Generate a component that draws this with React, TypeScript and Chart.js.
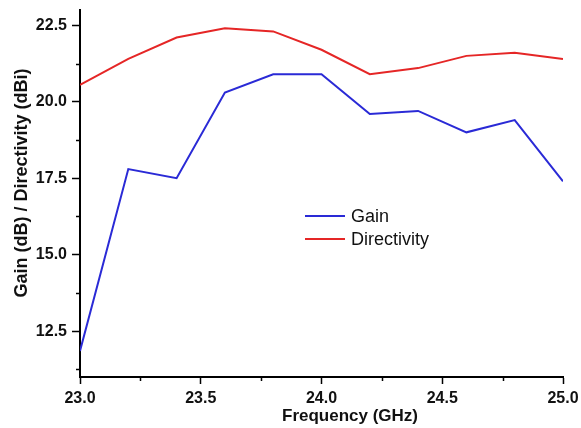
import React, { useEffect, useRef } from "react";
import { Chart, registerables } from "chart.js";

Chart.register(...registerables);

const frequency = [23.0, 23.2, 23.4, 23.6, 23.8, 24.0, 24.2, 24.4, 24.6, 24.8, 25.0];
const gain = [11.85, 17.8, 17.5, 20.3, 20.9, 20.9, 19.6, 19.7, 19.0, 19.4, 17.4];
const directivity = [20.55, 21.4, 22.1, 22.4, 22.3, 21.7, 20.9, 21.1, 21.5, 21.6, 21.4];

const xTicks = [23.0, 23.5, 24.0, 24.5, 25.0];
const xMinorTicks = [23.25, 23.75, 24.25, 24.75];
const yTicks = [12.5, 15.0, 17.5, 20.0, 22.5];
const yMinorTicks = [11.25, 13.75, 16.25, 18.75, 21.25];

const seriesNames = ["Gain", "Directivity"];
const xTitle = "Frequency (GHz)";
const yTitle = "Gain (dB) / Directivity (dBi)";

const FONT = '"Liberation Sans", Arial, sans-serif';
const GAIN_COLOR = "#2a2ad6";
const DIR_COLOR = "#e52626";

const decorPlugin = {
  id: "decor",
  afterDraw(chart: any) {
    const ctx = chart.ctx as CanvasRenderingContext2D;
    const xs = chart.scales.x;
    const ys = chart.scales.y;
    const area = chart.chartArea;
    ctx.save();
    // minor ticks
    ctx.strokeStyle = "#000";
    ctx.lineWidth = 1.5;
    for (const v of xMinorTicks) {
      const px = Math.round(xs.getPixelForValue(v)) + 0.5;
      ctx.beginPath();
      ctx.moveTo(px, area.bottom);
      ctx.lineTo(px, area.bottom + 4);
      ctx.stroke();
    }
    for (const v of yMinorTicks) {
      const py = Math.round(ys.getPixelForValue(v)) + 0.5;
      ctx.beginPath();
      ctx.moveTo(area.left, py);
      ctx.lineTo(area.left - 4, py);
      ctx.stroke();
    }
    // axis titles
    ctx.fillStyle = "#111";
    ctx.font = `bold 17px ${FONT}`;
    ctx.textAlign = "center";
    ctx.textBaseline = "middle";
    ctx.fillText(xTitle, 350, 416);
    ctx.save();
    ctx.translate(22, 183);
    ctx.rotate(-Math.PI / 2);
    ctx.font = `bold 18px ${FONT}`;
    ctx.fillText(yTitle, 0, 0);
    ctx.restore();
    // legend
    const colors = [GAIN_COLOR, DIR_COLOR];
    const ly = [216, 239];
    ctx.font = `18px ${FONT}`;
    ctx.textAlign = "left";
    seriesNames.forEach((name, i) => {
      ctx.strokeStyle = colors[i];
      ctx.lineWidth = 2;
      ctx.beginPath();
      ctx.moveTo(305, ly[i]);
      ctx.lineTo(345, ly[i]);
      ctx.stroke();
      ctx.fillStyle = "#111";
      ctx.fillText(name, 351, ly[i] + 1);
    });
    ctx.restore();
  },
};

export default function App() {
  const ref = useRef<HTMLCanvasElement | null>(null);
  useEffect(() => {
    if (!ref.current) return;
    const chart = new Chart(ref.current, {
      type: "line",
      data: {
        datasets: [
          {
            label: seriesNames[0],
            data: frequency.map((f, i) => ({ x: f, y: gain[i] })),
            borderColor: GAIN_COLOR,
            borderWidth: 2,
            pointRadius: 0,
            tension: 0,
          },
          {
            label: seriesNames[1],
            data: frequency.map((f, i) => ({ x: f, y: directivity[i] })),
            borderColor: DIR_COLOR,
            borderWidth: 2,
            pointRadius: 0,
            tension: 0,
          },
        ],
      },
      options: {
        animation: false,
        responsive: false,
        layout: { padding: { top: 10, right: 18, left: 0, bottom: 0 } },
        plugins: { legend: { display: false }, tooltip: { enabled: false } },
        scales: {
          x: {
            type: "linear",
            min: 23,
            max: 25,
            afterBuildTicks: (s: any) => {
              s.ticks = xTicks.map((v) => ({ value: v }));
            },
            afterFit: (s: any) => {
              s.height = 51;
              s.paddingLeft = 0;
              s.paddingRight = 0;
            },
            ticks: {
              color: "#111",
              font: { family: FONT, size: 16, weight: "bold" },
              padding: 5,
              maxRotation: 0,
              callback: (v: any) => Number(v).toFixed(1),
            },
            grid: {
              drawOnChartArea: false,
              drawTicks: true,
              tickLength: 7,
              tickColor: "#000",
              tickWidth: 1.5,
            },
            border: { display: true, color: "#000", width: 2 },
          },
          y: {
            type: "linear",
            min: 11,
            max: 23,
            afterBuildTicks: (s: any) => {
              s.ticks = yTicks.map((v) => ({ value: v }));
            },
            afterFit: (s: any) => {
              s.width = 80;
              s.paddingTop = 0;
              s.paddingBottom = 0;
            },
            ticks: {
              color: "#111",
              font: { family: FONT, size: 16, weight: "bold" },
              padding: 5,
              callback: (v: any) => Number(v).toFixed(1),
            },
            grid: {
              drawOnChartArea: false,
              drawTicks: true,
              tickLength: 8,
              tickColor: "#000",
              tickWidth: 1.5,
            },
            border: { display: true, color: "#000", width: 2 },
          },
        },
      },
      plugins: [decorPlugin],
    } as any);
    return () => chart.destroy();
  }, []);
  return (
    <div style={{ position: "absolute", left: 0, top: 0, width: 581, height: 428, background: "#fff" }}>
      <canvas ref={ref} width={581} height={428} style={{ width: 581, height: 428, display: "block" }} />
    </div>
  );
}
